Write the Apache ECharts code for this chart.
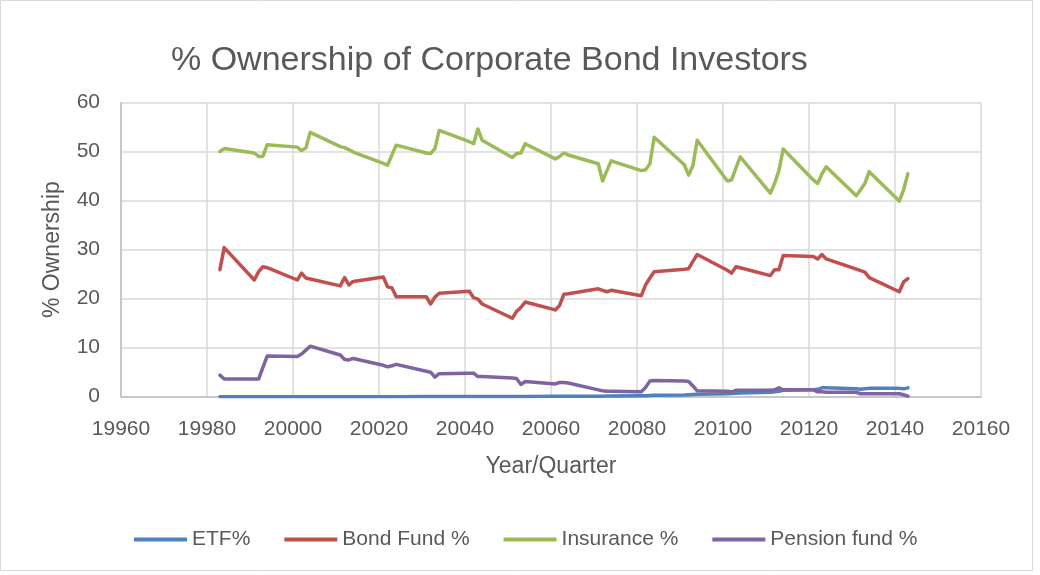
<!DOCTYPE html>
<html>
<head>
<meta charset="utf-8">
<script src="https://cdn.jsdelivr.net/npm/echarts@6/dist/echarts.min.js"></script>
<style>
html,body{margin:0;padding:0;background:#fff;}
#chart{width:1040px;height:575px;}
</style>
</head>
<body>
<div id="chart"></div>
<script>
// Year/Quarter values (yyyyq)
const quarters = [
  19983, 19984,
  19991, 19992, 19993, 19994,
  20001, 20002, 20003, 20004,
  20011, 20012, 20013, 20014,
  20021, 20022, 20023, 20024,
  20031, 20032, 20033, 20034,
  20041, 20042, 20043, 20044,
  20051, 20052, 20053, 20054,
  20061, 20062, 20063, 20064,
  20071, 20072, 20073, 20074,
  20081, 20082, 20083, 20084,
  20091, 20092, 20093, 20094,
  20101, 20102, 20103, 20104,
  20111, 20112, 20113, 20114,
  20121, 20122, 20123, 20124,
  20131, 20132, 20133, 20134,
  20141, 20142, 20143
];

const etf = [
  0.0, 0.0,
  0.0, 0.0, 0.0, 0.0,
  0.0, 0.0, 0.0, 0.0,
  0.0, 0.0, 0.0, 0.0,
  0.0, 0.0, 0.0, 0.0,
  0.05, 0.05, 0.05, 0.05,
  0.05, 0.05, 0.05, 0.05,
  0.05, 0.05, 0.05, 0.05,
  0.1, 0.1, 0.1, 0.1,
  0.1, 0.1, 0.15, 0.15,
  0.2, 0.2, 0.25, 0.3,
  0.35, 0.4, 0.45, 0.5,
  0.6, 0.65, 0.7, 0.75,
  0.9, 1.0, 1.1, 1.3,
  1.4, 1.5, 1.8, 1.8,
  1.6, 1.5, 1.6, 1.7,
  1.7, 1.6, 1.8
];

const bondFund = [
  25.9, 30.4,
  23.8, 25.5, 26.5, 26.3,
  23.8, 25.2, 24.2, 24.0,
  22.6, 24.3, 22.8, 23.5,
  24.4, 22.4, 22.2, 20.4,
  20.4, 18.9, 20.3, 21.1,
  21.5, 20.2, 19.9, 18.9,
  16.0, 17.4, 18.2, 19.3,
  17.7, 18.6, 20.9, 21.0,
  22.0, 21.7, 21.4, 21.7,
  20.6, 22.8, 24.2, 25.5,
  26.0, 26.1, 27.6, 29.0,
  25.8, 25.2, 26.5, 26.3,
  24.7, 25.9, 25.9, 28.8,
  28.6, 28.1, 29.0, 28.1,
  26.0, 25.7, 25.4, 24.3,
  21.4, 23.4, 24.1
];

const insurance = [
  50.0, 50.6,
  49.7, 49.0, 49.0, 51.4,
  50.9, 50.2, 50.7, 53.9,
  51.0, 50.8, 50.4, 49.9,
  47.6, 47.2, 49.3, 51.3,
  49.7, 49.6, 50.6, 54.3,
  52.0, 51.6, 54.6, 52.3,
  48.8, 49.6, 49.7, 51.6,
  48.5, 49.0, 49.7, 49.3,
  47.5, 44.0, 46.1, 48.1,
  46.1, 46.3, 47.5, 52.9,
  47.3, 45.2, 47.1, 52.3,
  44.0, 44.2, 46.6, 48.9,
  41.5, 43.5, 46.1, 50.5,
  44.2, 43.5, 45.4, 46.9,
  41.0, 42.2, 43.5, 45.9,
  39.9, 42.2, 45.5
];

const pension = [
  4.4, 3.6,
  3.6, 3.6, 6.0, 8.3,
  8.2, 8.7, 9.5, 10.3,
  8.5, 7.6, 7.5, 7.8,
  6.4, 6.1, 6.3, 6.6,
  5.2, 5.0, 4.0, 4.7,
  4.8, 4.8, 4.1, 4.1,
  3.8, 3.7, 2.5, 3.1,
  2.6, 2.9, 2.9, 2.8,
  1.4, 1.2, 1.1, 1.1,
  1.0, 1.9, 3.2, 3.3,
  3.2, 3.1, 2.2, 1.2,
  1.1, 1.0, 1.3, 1.3,
  1.3, 1.4, 1.8, 1.4,
  1.4, 1.0, 1.0, 0.9,
  0.9, 0.6, 0.6, 0.6,
  0.6, 0.4, 0.1
];

const seriesNames = ['ETF%', 'Bond Fund %', 'Insurance %', 'Pension fund %'];
const seriesValues = [etf, bondFund, insurance, pension];
const seriesColors = ['#4f81bd', '#c0504d', '#9bbb59', '#8064a2'];

const xTicks = { min: 19960, max: 20160, interval: 20 };
const yTicks = { min: 0, max: 60, interval: 10 };

const FONT = '"Liberation Sans", Arial, sans-serif';
const TXT = '#595959';

const chart = echarts.init(document.getElementById('chart'), null, { renderer: 'canvas' });

chart.setOption({
  animation: false,
  backgroundColor: '#ffffff',
  textStyle: { fontFamily: FONT },
  title: {
    text: '% Ownership of Corporate Bond Investors',
    left: 166,
    top: 39,
    textStyle: { fontFamily: FONT, fontSize: 34, fontWeight: 'normal', color: TXT }
  },
  graphic: [{
    type: 'rect',
    shape: { x: 0.5, y: 0.5, width: 1032, height: 570 },
    style: { fill: 'none', stroke: '#d9d9d9', lineWidth: 1 },
    silent: true,
    z: -1
  }],
  grid: { left: 121, right: 59, top: 102.5, bottom: 178.3, containLabel: false },
  legend: {
    data: seriesNames,
    icon: 'rect',
    left: 129,
    top: 524,
    itemWidth: 53,
    itemHeight: 4,
    itemGap: 34,
    textStyle: { fontFamily: FONT, fontSize: 21, color: TXT }
  },
  xAxis: {
    type: 'value',
    min: xTicks.min,
    max: xTicks.max,
    interval: xTicks.interval,
    name: 'Year/Quarter',
    nameLocation: 'middle',
    nameGap: 58,
    nameTextStyle: { fontFamily: FONT, fontSize: 23, color: TXT },
    axisLine: { show: true, onZero: false, lineStyle: { color: '#bfbfbf', width: 1.5 } },
    axisTick: { show: false },
    axisLabel: { fontFamily: FONT, fontSize: 21, color: TXT, margin: 22,
                 formatter: v => String(v) },
    splitLine: { show: true, lineStyle: { color: '#d9d9d9', width: 1.5 } }
  },
  yAxis: {
    type: 'value',
    min: yTicks.min,
    max: yTicks.max,
    interval: yTicks.interval,
    name: '% Ownership',
    nameLocation: 'middle',
    nameRotate: 90,
    nameGap: 57,
    nameTextStyle: { fontFamily: FONT, fontSize: 23, color: TXT },
    axisLine: { show: true, lineStyle: { color: '#bfbfbf', width: 1.5 } },
    axisTick: { show: false },
    axisLabel: { fontFamily: FONT, fontSize: 21, color: TXT, margin: 21 },
    splitLine: { show: true, lineStyle: { color: '#d9d9d9', width: 1.5 } }
  },
  series: seriesNames.map((name, k) => ({
    name: name,
    type: 'line',
    symbol: 'none',
    showSymbol: false,
    color: seriesColors[k],
    lineStyle: { width: 3.5, color: seriesColors[k], join: 'round', cap: 'round' },
    data: quarters.map((q, i) => [q, seriesValues[k][i]]),
    z: k === 0 ? 2 : 3
  }))
});
</script>
</body>
</html>
